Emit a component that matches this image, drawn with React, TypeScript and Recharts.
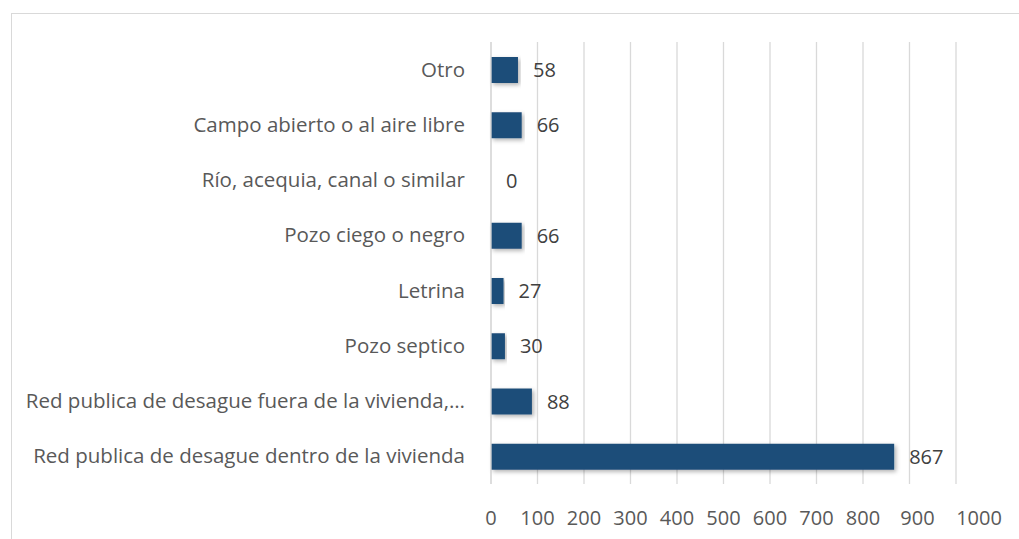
import React from 'react';
import { BarChart, Bar, XAxis, YAxis, CartesianGrid, LabelList } from 'recharts';

const categories = [
  'Otro',
  'Campo abierto o al aire libre',
  'Río, acequia, canal o similar',
  'Pozo ciego o negro',
  'Letrina',
  'Pozo septico',
  'Red publica de desague fuera de la vivienda,…',
  'Red publica de desague dentro de la vivienda',
];
const viviendas = [58, 66, 0, 66, 27, 30, 88, 867];
const xTicks = [0, 100, 200, 300, 400, 500, 600, 700, 800, 900, 1000];

const data = categories.map((name, i) => ({ name, value: viviendas[i] }));

const FONT = '"Open Sans", sans-serif';

// Excel nudges the last tick labels to the right so they don't crowd
const tickNudge: Record<number, number> = { 900: 8, 1000: 23 };

const CategoryTick = (props: any) => {
  const { x, y, payload } = props;
  return (
    <text x={x - 18} y={y} dy={7} textAnchor="end" fill="#595959" fontSize={20.5} fontFamily={FONT}>
      {payload.value}
    </text>
  );
};

const ValueTick = (props: any) => {
  const { x, y, payload } = props;
  return (
    <text
      x={x + (tickNudge[payload.value] || 0)}
      y={y}
      dy={33}
      textAnchor="middle"
      fill="#595959"
      fontSize={20}
      fontFamily={FONT}
    >
      {payload.value}
    </text>
  );
};

const ShadowBar = (props: any) => {
  const { x, y, width, height, fill } = props;
  if (!width || width <= 0) return null;
  return <rect x={x} y={y} width={width} height={height} fill={fill} filter="url(#barShadow)" />;
};

export default function App() {
  return (
    <div style={{ position: 'fixed', left: 0, top: 0, width: 1019, height: 539, overflow: 'hidden', background: '#fff' }}>
      <div
        style={{
          position: 'absolute',
          left: 11,
          top: 13,
          width: 1100,
          height: 600,
          borderTop: '1.5px solid #d9d9d9',
          borderLeft: '1.5px solid #d9d9d9',
        }}
      />
      <div style={{ position: 'absolute', left: 0, top: 0 }}>
        <BarChart
          width={1019}
          height={539}
          data={data}
          layout="vertical"
          margin={{ top: 42, right: 63, bottom: 25, left: 0 }}
          barSize={26}
        >
          <defs>
            <filter id="barShadow" x="-5%" y="-20%" width="115%" height="160%">
              <feDropShadow dx="2" dy="2" stdDeviation="2" floodColor="#000" floodOpacity="0.3" />
            </filter>
          </defs>
          <CartesianGrid horizontal={false} stroke="#d9d9d9" strokeWidth={1.3} />
          <XAxis
            type="number"
            domain={[0, 1000]}
            ticks={xTicks}
            axisLine={false}
            tickLine={false}
            tick={<ValueTick />}
            interval={0}
          />
          <YAxis
            type="category"
            dataKey="name"
            width={491}
            axisLine={{ stroke: '#d9d9d9', strokeWidth: 1.3 }}
            tickLine={false}
            tick={<CategoryTick />}
            interval={0}
          />
          <Bar dataKey="value" fill="#1f4e79" isAnimationActive={false} shape={<ShadowBar />}>
            <LabelList
              dataKey="value"
              position="right"
              offset={15}
              fill="#404040"
              fontSize={20}
              fontFamily={FONT}
            />
          </Bar>
        </BarChart>
      </div>
    </div>
  );
}
